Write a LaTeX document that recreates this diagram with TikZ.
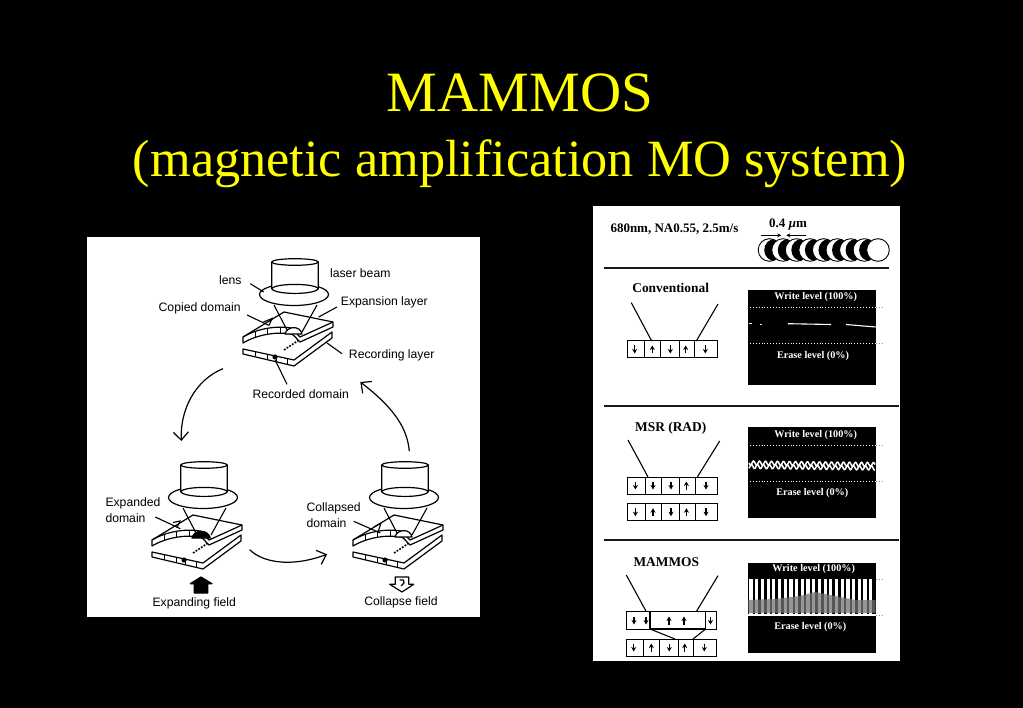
\documentclass[tikz,border=0pt]{standalone}
\usepackage{fontspec}
\setmainfont{Liberation Serif}
\newfontfamily\labelsans{Liberation Sans}
\usetikzlibrary{positioning}
\usetikzlibrary{arrows.meta}
\definecolor{titleyellow}{RGB}{255,255,0}
\tikzset{
	titletext/.style={text=titleyellow,font=\fontsize{57}{60}\selectfont,inner sep=0pt},
	subtitletext/.style={text=titleyellow,font=\fontsize{52.3}{60}\selectfont,inner sep=0pt},
	sketchlabel/.style={font=\labelsans\fontsize{12.2}{14}\selectfont,inner sep=0pt,text=black},
	panellabel/.style={font=\bfseries\fontsize{13.4}{15}\selectfont,inner sep=0pt,text=black},
	speclabeltext/.style={font=\bfseries\fontsize{13}{15}\selectfont,inner sep=0pt,text=black},
	leveltext/.style={font=\bfseries\fontsize{10.2}{12}\selectfont,inner sep=0pt,text=white},
	sketchline/.style={line width=1.2pt,black,line join=round},
	thinline/.style={line width=0.8pt,black},
	cellline/.style={line width=1pt,black},
	leader/.style={line width=1.1pt,black},
	looparrow/.style={line width=1.2pt,black,-{Straight Barb[length=8pt,width=15pt]}},
	sepline/.style={line width=1.7pt,black!90},
	spinarrow/.style={line width=1.1pt,-{Stealth[length=4.5pt,width=5pt]}},
	leveldots/.style={line width=0.9pt,dotted}
}
\newcommand{\lensunit}{\draw[sketchline,fill=white] (-52,87) -- (-52,92) -- (-1,104) -- (37,76) -- (37,70) -- (-1,98) -- cycle;
					\draw[thinline] (-40,89.5) -- (-40,94.5) (-28,92) -- (-28,97.5) (-19,94.5) -- (-19,99.5) (-8,97) -- (-8,102.5);
					\fill[black] (-20,95) circle (2.6pt);
					\draw[sketchline,fill=white] (-52,75) -- (-52,81) .. controls (-35,71) and (-15,70) .. (-4,72) .. controls (0,73) and (2,78) .. (5,80) -- (38,65) -- (38,60) -- (-11,50) -- cycle;
					\draw[sketchline] (-52,75) .. controls (-35,65) and (-15,64) .. (-4,66) .. controls (0,67) and (2,73) .. (5,75) -- (38,60);
					\draw[thinline] (-40,70) -- (-40,76) (-28,67) -- (-28,73) (-15,65) -- (-15,71) (-5,66) -- (-5,72);
					\draw[line width=1.6pt,black,dash pattern=on 1.8pt off 1.4pt] (-11,88) -- (4,78);
					\draw[leader] (-21,43) -- (-8,68);
					\draw[leader] (22,43) -- (7,70);
					\draw[sketchline,fill=white] (-1,32.5) ellipse [x radius=34.5pt,y radius=11pt];
					\draw[sketchline,fill=white] (-23.3,0) -- (-23.3,26.7) .. controls (-20,33) and (20,33) .. (23.3,26.7) -- (23.3,0);
					\draw[sketchline] (-23.3,26.7) .. controls (-20,21) and (20,21) .. (23.3,26.7);
					\draw[sketchline] (0,0) ellipse [x radius=23.3pt,y radius=3.3pt];}
\newcommand{\domaindome}[1]{\draw[sketchline,fill=#1] (-10,72) .. controls (-8,64) and (5,63) .. (7,72) -- cycle;}
\newcommand{\cellrow}[3]{\begin{scope}[shift={(#1,#2)}]
						\draw[cellline,fill=white] (0,0) rectangle (90,17);
						\foreach \cx in {17.7,33.7,52,67.7}
							\draw[cellline] (\cx,0) -- (\cx,17);
						\foreach \ax/\dfrom/\dto in {#3}
							\draw[spinarrow] (\ax,\dfrom) -- (\ax,\dto);
					\end{scope}}
\newcommand{\levelline}[1]{\draw[leveldots,white] (747,#1) -- (875.7,#1);
					\draw[leveldots,black!45] (875.7,#1) -- (882,#1);}
\begin{document}
\begin{tikzpicture}[x=1pt,y=-1pt]
	\useasboundingbox (0,0) rectangle (1023,708);
	\fill[black] (0,0) rectangle (1023,708);

	\node[titletext] (maintitle) at (520,93) {MAMMOS};
	\node[subtitletext] (subtitle) at (520,164) {(magnetic amplification MO system)};

	% left figure
	\fill[white] (87,237) rectangle (480,617);

	\begin{scope}[shift={(295,262)}]
		\lensunit
		\domaindome{white}
	\end{scope}

	\begin{scope}[shift={(204,465)}]
		\lensunit
		\draw[sketchline,fill=black] (-12,73) .. controls (-10,64) and (4,64) .. (6.3,73) -- cycle;
	\end{scope}

	\begin{scope}[shift={(405,465)}]
		\lensunit
		\domaindome{white}
	\end{scope}

	\node[sketchlabel] (lenslabel) at (230.3,280.3) {lens};
	\node[sketchlabel] (beamlabel) at (360.3,273) {laser beam};
	\node[sketchlabel] (expansionlabel) at (384.3,302.7) {Expansion layer};
	\node[sketchlabel] (copiedlabel) at (199.7,308.7) {Copied domain};
	\node[sketchlabel] (recordinglabel) at (391.7,355.7) {Recording layer};
	\node[sketchlabel] (recordedlabel) at (300.7,393.7) {Recorded domain};
	\node[sketchlabel,anchor=west,align=left] (expandedlabel) at (105.3,510) {Expanded\\[2pt]domain};
	\node[sketchlabel,anchor=west,align=left] (collapsedlabel) at (306.3,515.5) {Collapsed\\[2pt]domain};
	\node[sketchlabel] (expandinglabel) at (194.3,603.7) {Expanding field};
	\node[sketchlabel] (collapselabel) at (401,602) {Collapse field};

	\coordinate (lenstip) at (263.7,292);
	\coordinate (expansiontip) at (318.7,317);
	\coordinate (copiedtip) at (268.7,325.3);
	\coordinate (recordingtip) at (327,343);
	\coordinate (recordedtip) at (275.3,360.3);
	\coordinate (expandedtip) at (180.3,528.7);
	\coordinate (collapsedtip) at (380.3,533);
	\draw[leader] (250.3,283.7) -- (lenstip);
	\draw[leader] (expansiontip) -- (337,307);
	\draw[leader] (247,315) -- (copiedtip);
	\draw[leader] (263.5,322) -- (272,318.5) -- (269,325.5);
	\draw[leader] (342,353.7) -- (recordingtip);
	\draw[leader] (recordedtip) -- (287,384.3);
	\draw[leader] (155.3,517) -- (expandedtip);
	\draw[leader] (173,522.5) -- (180,521) -- (177,528);
	\draw[leader] (353.7,521.3) -- (collapsedtip);
	\draw[leader] (374,527) -- (381,523) -- (378,532);

	\coordinate (topleave) at (223,368.7);
	\coordinate (leftenter) at (181.3,441);
	\coordinate (leftleave) at (249.7,549.7);
	\coordinate (rightenter) at (327,554.3);
	\coordinate (rightleave) at (409.3,451);
	\coordinate (topenter) at (360.3,382);
	\draw[looparrow] (topleave) .. controls (195,380) and (180,410) .. (leftenter);
	\draw[looparrow] (leftleave) .. controls (262,562) and (290,568) .. (rightenter);
	\draw[looparrow] (rightleave) .. controls (407,425) and (390,405) .. (topenter);

	\draw[sketchline,fill=black] (201,577) -- (212,583.7) -- (207.7,583.7) -- (207.7,593) -- (194.3,593) -- (194.3,583.7) -- (190.3,583.7) -- cycle;
	\draw[sketchline,fill=white] (395.3,577) -- (408.7,577) -- (408.7,584.3) -- (413.7,584.3) -- (402,592) -- (389.7,584.3) -- (395.3,584.3) -- cycle;
	\draw[sketchline] (399.5,580) -- (403.5,580) -- (404,583) -- (401,586);

	% right figure
	\fill[white] (593,206) rectangle (900,661);

	\node[speclabeltext,anchor=west] (speclabel) at (610.3,228.7) {680nm, NA0.55, 2.5m/s};
	\node[speclabeltext] (pitchlabel) at (788,224.3) {0.4 \textit{µ}m};

	\foreach \sx in {769.5,783.06,796.62,810.18,823.74,837.3,850.86,864.42} {
		\draw[line width=0.9pt,fill=white] (\sx,250) circle (11.3pt);
		\begin{scope}
			\clip (\sx,250) circle (11.3pt);
			\fill[black] (\sx+6,250) circle (11.3pt);
		\end{scope}
	}
	\draw[line width=0.9pt,fill=white] (878,250) circle (11.3pt);
	\draw[line width=0.9pt,-{Stealth[length=4pt,width=4pt]}] (761.3,235.3) -- (781.3,235.3);
	\draw[line width=0.9pt,-{Stealth[length=4pt,width=4pt]}] (806.3,235.3) -- (786.3,235.3);

	\draw[sepline] (603.7,267.7) -- (889,267.7);
	\draw[sepline] (603.7,406) -- (899,406);
	\draw[sepline] (603.7,540) -- (899,540);

	\node[panellabel] (convlabel) at (670.7,287.7) {Conventional};
	\node[panellabel] (msrlabel) at (670.7,428.3) {MSR (RAD)};
	\node[panellabel] (mammoslabel) at (666.3,561.7) {MAMMOS};

	% conventional
	\cellrow{627}{341}{7.7/4.5/12.5,25.3/12.5/4.5,43.3/4.5/12.5,58.7/12.5/4.5,78.3/4.5/12.5}
	\draw[leader] (631.3,302.7) -- (651.7,341);
	\draw[leader] (718,304) -- (696.3,341);
	\fill[black] (748.3,290.3) rectangle (875.7,385.3);
	\node[leveltext] (convwrite) at (815.7,297) {Write level (100\%)};
	\node[leveltext] (converase) at (813,356) {Erase level (0\%)};
	\levelline{307.7}
	\levelline{343.3}
	\draw[white,line width=0.9pt] (749,323.7) -- (752,323.7) (760,324) -- (762,324);
	\draw[white,line width=1.1pt] (788,323.7) -- (831,324.5);
	\draw[white,line width=1.1pt] (846,324.5) -- (875.7,327);

	% MSR
	\cellrow{627.7}{477}{7.7/4.5/12.5,25.3/4.5/12.5,43.3/4.5/12.5,58.7/12.5/4.5,78.3/4.5/12.5}
	\cellrow{627.7}{503.7}{7.7/4.5/12.5,25.3/12.5/4.5,43.3/4.5/12.5,58.7/12.5/4.5,78.3/4.5/12.5}
	\draw[leader] (628,440) -- (648,477);
	\draw[leader] (719.7,441) -- (697.3,477);
	\fill[black] (748.3,426.7) rectangle (875.7,517.7);
	\node[leveltext] (msrwrite) at (815.7,435) {Write level (100\%)};
	\node[leveltext] (msrerase) at (812.3,492.7) {Erase level (0\%)};
	\levelline{445}
	\levelline{481}
	\draw[white,line width=1.5pt] plot[domain=0:126,samples=170] (749+\x,{463+0.012*\x+2*sin(\x*60)});
	\draw[white,line width=1.5pt] plot[domain=0:126,samples=170] (749+\x,{466.5+0.012*\x+2*sin(\x*60+120)});

	% MAMMOS
	\cellrow{626}{639}{7.7/4.5/12.5,25.3/12.5/4.5,43.3/4.5/12.5,58.7/12.5/4.5,78.3/4.5/12.5}
	\draw[cellline,fill=white] (626,611.7) rectangle (716,629);
	\draw[line width=1.3pt,black] (650,611.7) rectangle (705.7,629);
	\draw[spinarrow] (634,616.5) -- (634,624.5);
	\draw[spinarrow] (646,616.5) -- (646,624.5);
	\draw[spinarrow] (669,624.5) -- (669,616.5);
	\draw[spinarrow] (684,624.5) -- (684,616.5);
	\draw[spinarrow] (710.5,616.5) -- (710.5,624.5);
	\draw[leader] (650,629) -- (675,639);
	\draw[leader] (705.7,629) -- (693,639);
	\draw[leader] (626.3,575) -- (646.3,611.7);
	\draw[leader] (718,575.7) -- (696.3,611.7);
	\fill[black] (748.3,562.7) rectangle (875.7,653.3);
	\node[leveltext] (mammoswrite) at (813.7,569) {Write level (100\%)};
	\node[leveltext] (mammoserase) at (810.3,627) {Erase level (0\%)};
	\foreach \bx in {751,756.7,...,876}
		\draw[white,line width=3.2pt] (\bx,579) -- (\bx,615);
	\fill[black!55,opacity=0.75] (748.3,600) -- (775,599) -- (800,596) -- (815,592) -- (835,596) -- (855,600) -- (875.7,600) -- (875.7,613) -- (748.3,613) -- cycle;
	\draw[white,line width=1.6pt] (747,615) -- (875.7,615);
	\draw[leveldots,black!45] (875.7,579) -- (882,579);
	\draw[leveldots,black!45] (875.7,615) -- (882,615);
\end{tikzpicture}
\end{document}
